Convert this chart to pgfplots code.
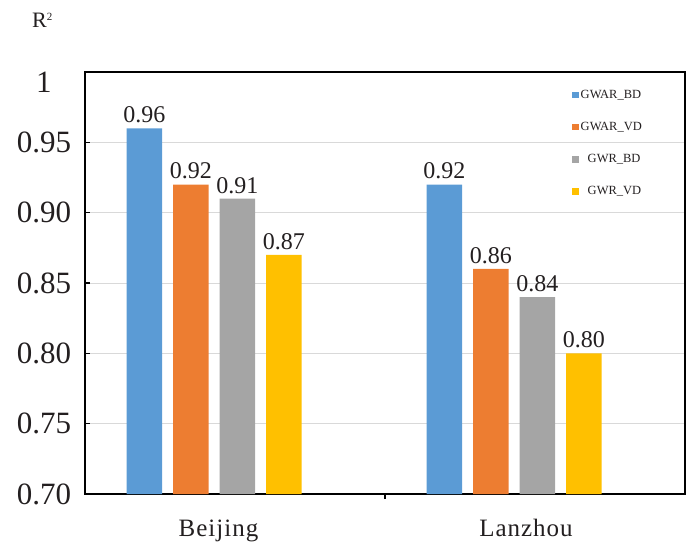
\documentclass[border=0pt]{standalone}
\usepackage{fontspec}
\setmainfont{Liberation Serif}
\usepackage{pgfplots}
\pgfplotsset{compat=1.18}

\definecolor{barblue}{HTML}{5B9BD5}
\definecolor{barorange}{HTML}{ED7D31}
\definecolor{bargray}{HTML}{A5A5A5}
\definecolor{baryellow}{HTML}{FFC000}
\definecolor{txt}{HTML}{231F20}

\begin{document}
\begin{tikzpicture}
\begin{axis}[
  name=ax,
  scale only axis,
  width=600bp, height=422bp,
  xmin=0, xmax=2,
  ymin=0.70, ymax=1.0,
  ytick={0.70,0.75,0.80,0.85,0.90,0.95,1.0},
  yticklabels={0.70,0.75,0.80,0.85,0.90,0.95,\raisebox{-10bp}[\height][\depth]{1}},
  yticklabel style={font=\fontsize{31bp}{31bp}\selectfont, text=txt, anchor=center, inner sep=0pt, xshift=-41bp},
  xtick={1}, xticklabels={},
  extra x ticks={0.445,1.47},
  extra x tick labels={Beijing,Lanzhou},
  extra x tick style={major tick length=0pt, grid=none,
    xticklabel style={font=\fontsize{25bp}{25bp}\selectfont\addfontfeature{LetterSpace=4}, text=txt, anchor=base, inner sep=0pt, yshift=-42bp}},
  ymajorgrids,
  major grid style={draw=black!15, line width=0.9bp},
  axis line style={line width=1.2bp, black},
  tick style={line width=1.2bp, black},
  tick align=inside,
  major tick length=5bp,
  xtick pos=bottom, ytick pos=left,
  ybar,
  bar width=0.118,
  nodes near coords={\pgfmathprintnumber[fixed,fixed zerofill,precision=2,assume math mode=true]{\pgfplotspointmeta}},
  nodes near coords style={font=\fontsize{24bp}{24bp}\selectfont, text=txt, anchor=south, inner sep=0pt, yshift=5bp},
  legend style={
    at={(rel axis cs:0.8117,0.96)}, anchor=north west,
    draw=none, fill=none, inner sep=0pt,
    font=\fontsize{12.5bp}{12.5bp}\selectfont, text=txt,
    row sep=20.3bp, column sep=2bp,
    nodes={inner sep=0pt, text height=9bp, text depth=3bp},
  },
  legend cell align=left,
  legend image code/.code={\fill[#1] (0bp,-3bp) rectangle (6.5bp,3.5bp);},
]
% GWAR with building density
\addplot[fill=barblue, draw=none, bar shift=-0.302] coordinates {(0.5,0.96) (1.5,0.92)};
\addlegendentry{GWAR\_BD}
% GWAR with vegetation density
\addplot[fill=barorange, draw=none, bar shift=-0.147] coordinates {(0.5,0.92) (1.5,0.86)};
\addlegendentry{GWAR\_VD}
% GWR with building density
\addplot[fill=bargray, draw=none, bar shift=0.008] coordinates {(0.5,0.91) (1.5,0.84)};
\addlegendentry{\hspace{7bp}GWR\_BD}
% GWR with vegetation density
\addplot[fill=baryellow, draw=none, bar shift=0.163] coordinates {(0.5,0.87) (1.5,0.80)};
\addlegendentry{\hspace{7bp}GWR\_VD}
\end{axis}
\node[anchor=base west, inner sep=0pt, text=txt, font=\fontsize{22bp}{22bp}\selectfont]
  at ([xshift=-53bp, yshift=44bp]ax.north west) {R\raisebox{7bp}{\fontsize{11bp}{11bp}\selectfont 2}};
\pgfresetboundingbox
\path[use as bounding box] ([xshift=-85bp,yshift=-55bp]ax.south west) rectangle ([xshift=10bp,yshift=72bp]ax.north east);
\end{tikzpicture}
\end{document}
